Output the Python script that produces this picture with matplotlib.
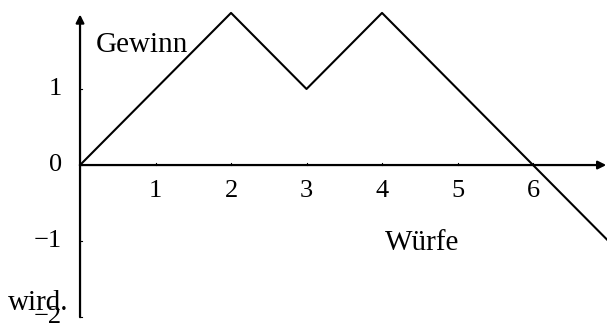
import numpy as np
import matplotlib.pyplot as plt

plt.rcParams['font.family'] = ['Liberation Serif', 'DejaVu Serif']

wurf = [0, 2, 3, 4, 7]
gewinn = [0, 2, 1, 2, -1]
xticks = [1, 2, 3, 4, 5, 6]
yticks = [-2, -1, 0, 1]

fig = plt.figure(figsize=(6.07, 3.24), dpi=100)
ax = fig.add_axes([0, 0, 1, 1])
ax.set_xlim(-1.06, 6.98)
ax.set_ylim(-2.09, 2.17)
ax.axis('off')

# axes with arrow heads
arrow = dict(arrowstyle='-|>', lw=1.6, color='k', mutation_scale=12,
             shrinkA=0, shrinkB=0)
ax.annotate('', xy=(6.97, 0), xytext=(0, 0), arrowprops=arrow,
            annotation_clip=False)
ax.annotate('', xy=(0, 1.98), xytext=(0, -2.0), arrowprops=arrow,
            annotation_clip=False)

# small ticks
for t in xticks:
    ax.plot([t, t], [0, 0.03], color='k', lw=0.8)
    ax.text(t, -0.34, str(t), ha='center', va='center', fontsize=19)
for t in yticks:
    ax.plot([0, 0.03], [t, t], color='k', lw=0.8)
    ax.text(-0.24, t, str(t).replace('-', '\u2212'), ha='right',
            va='center', fontsize=19)

ax.plot(wurf, gewinn, color='k', lw=1.5)

ax.text(0.21, 1.58, 'Gewinn', ha='left', va='center', fontsize=21)
ax.text(4.04, -1.03, 'Würfe', ha='left', va='center', fontsize=21)
ax.text(-0.95, -1.82, 'wird.', ha='left', va='center', fontsize=21)

fig.savefig('out.png', dpi=100)
